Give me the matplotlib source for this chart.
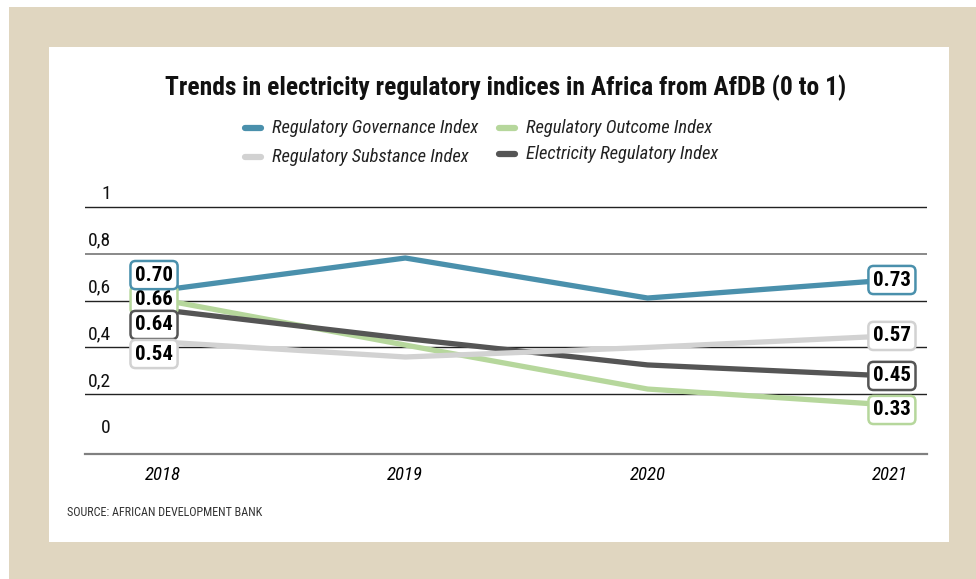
import matplotlib
matplotlib.use("Agg")
from matplotlib import pyplot as plt
from matplotlib.patches import Rectangle
from matplotlib.lines import Line2D
from matplotlib import transforms

# values (positions against the gridlines)
years = ["2018", "2019", "2020", "2021"]
governance = [0.645, 0.782, 0.611, 0.688]
outcome = [0.603, 0.410, 0.222, 0.154]
substance = [0.423, 0.359, 0.400, 0.449]
electricity = [0.560, 0.438, 0.325, 0.278]

# value labels printed in the boxes
gov_labels = ["0.70", "0.73"]
out_labels = ["0.66", "0.33"]
sub_labels = ["0.54", "0.57"]
ele_labels = ["0.64", "0.45"]

ytick_vals = [0, 0.2, 0.4, 0.6, 0.8, 1]
ytick_text = ["0", "0,2", "0,4", "0,6", "0,8", "1"]

BLUE = "#4a90ac"
GREEN = "#b6d79c"
LGRAY = "#d2d2d2"
DGRAY = "#555555"
BEIGE = "#e0d6c0"

plt.rcParams['font.family'] = ['Roboto Condensed', 'DejaVu Sans']
plt.rcParams['font.stretch'] = 'condensed'

fig = plt.figure(figsize=(9.76, 5.79), dpi=100)
fig.patch.set_facecolor("white")
W, H = 976.0, 579.0

# beige frame and white panel
fig.add_artist(Rectangle((9 / W, 0), 1 - 9 / W, 1 - 7 / H, transform=fig.transFigure,
                         facecolor=BEIGE, edgecolor="none", zorder=0))
fig.add_artist(Rectangle((49 / W, (H - 542) / H), 900 / W, 495 / H, transform=fig.transFigure,
                         facecolor="white", edgecolor="none", zorder=0))

ax = fig.add_axes([85 / W, (H - 454) / H, 842 / W, 258.7 / H])
ax.set_facecolor("none")
ax.set_xlim(-0.322, 3.153)
ax.set_ylim(-0.0556, 1.05)
for s in ["top", "right", "left"]:
    ax.spines[s].set_visible(False)
ax.spines["bottom"].set_color("#808080")
ax.spines["bottom"].set_linewidth(1.6)
ax.set_yticks([])
ax.set_xticks(range(len(years)))
ax.set_xticklabels(years, fontsize=13.5, style="italic")
ax.tick_params(axis="x", length=0, pad=9)

grid_colors = {0.2: "#222222", 0.4: "#222222", 0.6: "#222222", 0.8: "#808080", 1: "#222222"}
for v in ytick_vals[1:]:
    ax.axhline(v, color=grid_colors[v], lw=1.3 if v == 0.8 else 1.0, zorder=1)

trans = transforms.blended_transform_factory(fig.transFigure, ax.transData)
for v, t in zip(ytick_vals, ytick_text):
    ax.text(111 / W, v + 0.018, t, transform=trans, ha="right", va="bottom", fontsize=14,
            color="#111111")

xs = list(range(len(years)))
series = [
    (outcome, GREEN, out_labels, 0),
    (electricity, DGRAY, ele_labels, -15),
    (substance, LGRAY, sub_labels, -12),
    (governance, BLUE, gov_labels, 15),
]
for vals, col, labs, _ in series:
    ax.plot(xs, vals, color=col, lw=3.8, solid_capstyle="butt", zorder=3)

# boxes: outcome first so governance box sits over it
for vals, col, labs, dy in [series[0], series[3], series[1], series[2]]:
    box = dict(boxstyle="round,pad=0.22,rounding_size=0.25", fc="white", ec=col, lw=1.8)
    ax.annotate(labs[0], (xs[0], vals[0]), xytext=(-9, dy), textcoords="offset pixels",
                ha="center", va="center", fontsize=15, fontweight="bold", color="black",
                bbox=box, zorder=5)
    end_dy = -5 if vals is outcome else 0
    ax.annotate(labs[1], (xs[-1], vals[-1]), xytext=(2, end_dy), textcoords="offset pixels",
                ha="center", va="center", fontsize=15, fontweight="bold", color="black",
                bbox=box, zorder=5)

fig.text(506 / W, 1 - 88 / H, "Trends in electricity regulatory indices in Africa from AfDB (0 to 1)",
         ha="center", va="center", fontsize=18.4, fontweight="bold", color="#111111")

# legend, drawn by hand
legend = [
    ("Regulatory Governance Index", BLUE, 243, 128),
    ("Regulatory Outcome Index", GREEN, 497, 128),
    ("Regulatory Substance Index", LGRAY, 243, 157),
    ("Electricity Regulatory Index", DGRAY, 497, 154),
]
for name, col, x0, y0 in legend:
    fig.add_artist(Line2D([(x0 + 2) / W, (x0 + 18) / W], [1 - y0 / H, 1 - y0 / H],
                          transform=fig.transFigure, color=col, lw=4.5, solid_capstyle="round"))
    fig.text((x0 + 29) / W, 1 - y0 / H, name, ha="left", va="center", fontsize=13.3,
             style="italic", color="#222222")

fig.text(67 / W, 1 - 512 / H, "SOURCE: AFRICAN DEVELOPMENT BANK", ha="left", va="center",
         fontsize=8.7, color="#333333")

plt.savefig("out.png", dpi=100)
